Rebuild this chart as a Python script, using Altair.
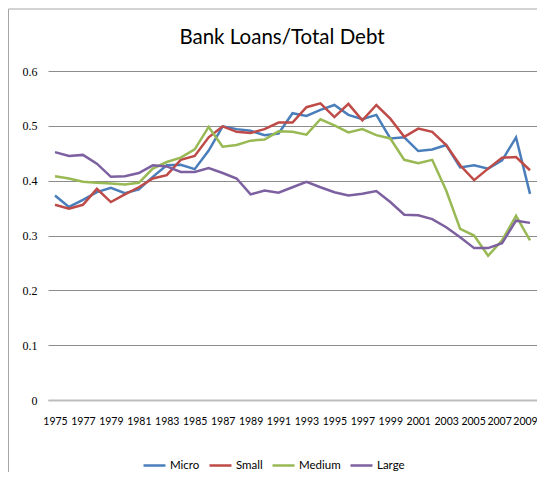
import altair as alt
import pandas as pd

chart_title = "Bank Loans/Total Debt"

years = list(range(1975, 2010))

micro = [0.373, 0.352, 0.365, 0.379, 0.387, 0.377, 0.384, 0.407, 0.428, 0.429,
         0.421, 0.455, 0.499, 0.494, 0.491, 0.483, 0.486, 0.523, 0.518, 0.529,
         0.538, 0.520, 0.512, 0.520, 0.477, 0.479, 0.454, 0.457, 0.465, 0.424,
         0.428, 0.422, 0.437, 0.479, 0.376]
small = [0.356, 0.349, 0.356, 0.385, 0.361, 0.375, 0.388, 0.404, 0.410, 0.438,
         0.445, 0.479, 0.499, 0.489, 0.487, 0.494, 0.506, 0.506, 0.534, 0.541,
         0.516, 0.540, 0.510, 0.538, 0.513, 0.480, 0.495, 0.489, 0.465, 0.428,
         0.401, 0.422, 0.442, 0.443, 0.419]
medium = [0.408, 0.404, 0.398, 0.396, 0.395, 0.393, 0.396, 0.422, 0.434, 0.442,
          0.457, 0.498, 0.462, 0.465, 0.473, 0.475, 0.490, 0.489, 0.484, 0.512,
          0.501, 0.488, 0.494, 0.483, 0.477, 0.438, 0.432, 0.438, 0.382, 0.312,
          0.300, 0.263, 0.291, 0.336, 0.291]
large = [0.452, 0.445, 0.447, 0.431, 0.407, 0.408, 0.414, 0.428, 0.426, 0.416,
         0.416, 0.423, 0.414, 0.404, 0.375, 0.382, 0.378, 0.388, 0.398, 0.388,
         0.379, 0.373, 0.376, 0.381, 0.361, 0.338, 0.337, 0.330, 0.315, 0.297,
         0.277, 0.277, 0.286, 0.327, 0.323]

series_names = ["Micro", "Small", "Medium", "Large"]
series_colors = ["#4A7EBB", "#BE4B48", "#98B954", "#7D60A0"]
x_tick_years = list(range(1975, 2010, 2))
y_ticks = [0, 0.1, 0.2, 0.3, 0.4, 0.5, 0.6]

rows = []
for name, vals in zip(series_names, [micro, small, medium, large]):
    for yr, v in zip(years, vals):
        rows.append({"Year": yr, "Value": v, "Series": name})
df = pd.DataFrame(rows)

W, H = 489, 329

x_label_offset = {
    "condition": [
        {"test": "datum.value == 2009", "value": -5},
        {"test": "datum.value == 2007", "value": -3},
        {"test": "datum.value == 2005", "value": -1},
    ],
    "value": 0,
}

lines = alt.Chart(df).mark_line(strokeWidth=2.5).encode(
    x=alt.X("Year:Q",
            scale=alt.Scale(domain=[1974.5, 2009.5], nice=False, zero=False),
            axis=alt.Axis(values=x_tick_years, format="d", title=None, grid=False,
                          ticks=False, labelPadding=16, labelOverlap=False,
                          labelFlush=False, labelBound=False,
                          labelOffset=x_label_offset,
                          labelFont="Lato", labelFontSize=10.5,
                          labelColor="#000000", domainColor="#BDBDBD",
                          domainWidth=2, zindex=1)),
    y=alt.Y("Value:Q",
            scale=alt.Scale(domain=[0, 0.6], nice=False),
            axis=alt.Axis(values=y_ticks, title=None, domain=False, ticks=False,
                          labelExpr="datum.value == 0 ? '0' : format(datum.value, '.1f')",
                          labelPadding=11, labelFont="Liberation Serif",
                          labelFontSize=12, labelColor="#000000",
                          gridColor="#8C8C8C", gridWidth=1)),
    color=alt.Color("Series:N",
                    scale=alt.Scale(domain=series_names, range=series_colors),
                    legend=alt.Legend(title=None, orient="none", direction="horizontal",
                                      legendX=94, legendY=382,
                                      symbolType="stroke", symbolSize=484,
                                      symbolStrokeWidth=2.5, labelOffset=3,
                                      columnPadding=4,
                                      labelFont="Lato",
                                      labelFontSize=11.5, labelColor="#000000")),
    order=alt.Order("Year:Q"),
)

border = alt.Chart(alt.Data(values=[{}])).mark_rect(
    fill=None, stroke="#A6A6A6", strokeWidth=1
).encode(
    x=alt.value(-39.5), x2=alt.value(700),
    y=alt.value(-62), y2=alt.value(700),
)

title_text = alt.Chart(alt.Data(values=[{"t": chart_title}])).mark_text(
    font="Lato", fontSize=20.5, color="#000000", align="center",
    baseline="alphabetic"
).encode(
    x=alt.value(234), y=alt.value(-27), text="t:N"
)

chart = alt.layer(border, title_text, lines).properties(
    width=W, height=H,
    autosize=alt.AutoSizeParams(type="none"),
    padding={"left": 40, "top": 63, "right": 0, "bottom": 72},
).configure_view(stroke=None)

chart.save("out.html", embed_options={"renderer": "svg", "actions": False})
